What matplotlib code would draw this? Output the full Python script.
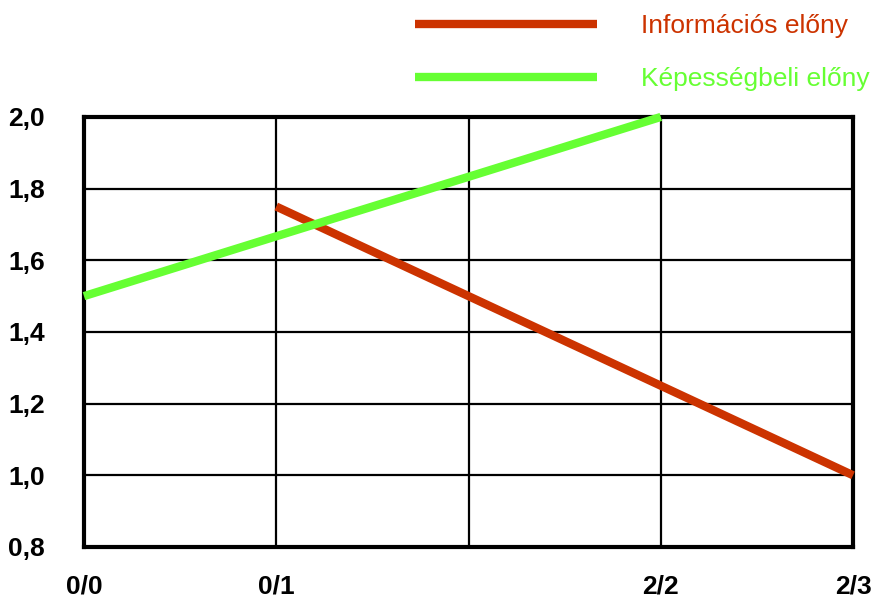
import numpy as np
import matplotlib
matplotlib.use("Agg")
import matplotlib.pyplot as plt

# x positions are the match states; the middle slot has no label
x_labels = ["0/0", "0/1", "", "2/2", "2/3"]
informacios = [np.nan, 1.75, 1.5, 1.25, 1.0]
kepessegbeli = [1.5, 1.667, 1.833, 2.0, np.nan]
y_ticks = [0.8, 1.0, 1.2, 1.4, 1.6, 1.8, 2.0]

RED = "#CC3300"
GREEN = "#66FF33"

plt.rcParams["font.family"] = ["Liberation Sans", "DejaVu Sans"]

fig = plt.figure(figsize=(8.72, 6.01), dpi=100)
ax = fig.add_axes([0.0963, 0.0899, 0.882, 0.7155])

x = np.arange(len(x_labels))
ax.plot(x, informacios, color=RED, lw=6, solid_capstyle="butt",
        label="Információs előny", clip_on=False, zorder=3)
ax.plot(x, kepessegbeli, color=GREEN, lw=6, solid_capstyle="butt",
        label="Képességbeli előny", clip_on=False, zorder=3)

ax.set_xlim(0, 4)
ax.set_ylim(0.8, 2.0)
ax.set_xticks(x)
ax.set_xticklabels(x_labels)
ax.set_yticks(y_ticks)
ax.set_yticklabels([f"{v:.1f}".replace(".", ",") for v in y_ticks])
ax.tick_params(axis="both", length=0, labelsize=19)
ax.tick_params(axis="x", pad=20)
ax.tick_params(axis="y", pad=28)
for lab in ax.get_xticklabels() + ax.get_yticklabels():
    lab.set_fontweight("bold")

ax.grid(True, color="black", lw=1.6)
ax.set_axisbelow(True)
for sp in ax.spines.values():
    sp.set_linewidth(3)
    sp.set_color("black")

fig.legend(loc="upper left", bbox_to_anchor=(0.476, 0.976), frameon=False,
           fontsize=19, handlelength=6.9, handletextpad=1.65, labelspacing=1.1,
           borderpad=0, borderaxespad=0, labelcolor="linecolor")

fig.savefig("out.png", dpi=100)
